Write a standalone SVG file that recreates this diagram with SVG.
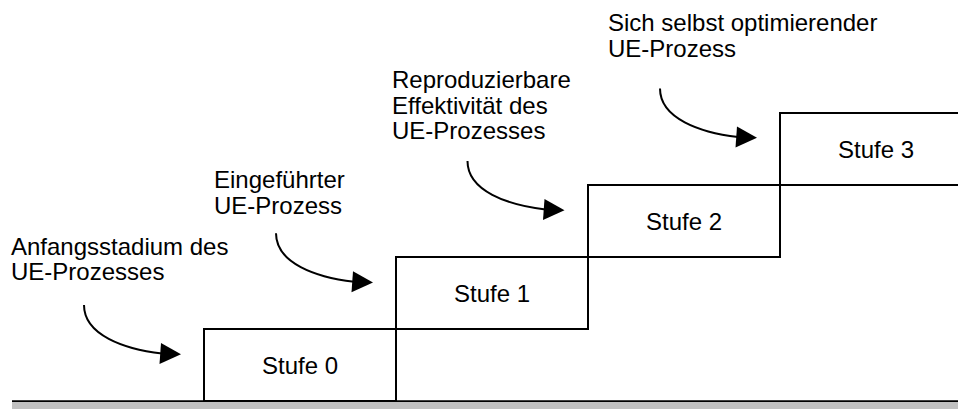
<svg xmlns="http://www.w3.org/2000/svg" xmlns:xlink="http://www.w3.org/1999/xlink" width="958" height="409" viewBox="0 0 958 409">
<style>
text{font-family:"Liberation Sans",Arial,sans-serif;font-size:24px;fill:#000}
.step{fill:#fff;stroke:#000;stroke-width:2}
.mid{text-anchor:middle}
.curve{fill:none;stroke:#000;stroke-width:2}
.head{fill:#000;stroke:none}
</style>
<defs>
<g id="arrow">
<path class="curve" d="M0,0 C0,30 40,44 78,48.5"/>
<polygon class="head" points="77,38 97,49.3 75.5,59"/>
</g>
</defs>
<rect x="12" y="402" width="946" height="7" fill="#c0c0c0"/>
<line x1="12" y1="401.2" x2="958" y2="401.2" stroke="#000" stroke-width="1.8"/>
<g id="stufe3">
<rect class="step" x="780" y="113" width="192" height="72"/>
<text class="mid" x="876" y="157.6">Stufe 3</text>
</g>
<g id="stufe2">
<rect class="step" x="588" y="185" width="192" height="72"/>
<text class="mid" x="684" y="229.6">Stufe 2</text>
</g>
<g id="stufe1">
<rect class="step" x="396" y="257" width="192" height="72"/>
<text class="mid" x="492" y="301.6">Stufe 1</text>
</g>
<g id="stufe0">
<rect class="step" x="204" y="329" width="192" height="72"/>
<text class="mid" x="300" y="373.6">Stufe 0</text>
</g>
<g id="label0">
<text x="11" y="254.5">Anfangsstadium des</text>
<text x="11" y="280">UE-Prozesses</text>
</g>
<g id="label1">
<text x="214" y="188">Eingeführter</text>
<text x="214" y="213.5">UE-Prozess</text>
</g>
<g id="label2">
<text x="392" y="88">Reproduzierbare</text>
<text x="392" y="113.5">Effektivität des</text>
<text x="392" y="139">UE-Prozesses</text>
</g>
<g id="label3">
<text x="608" y="31">Sich selbst optimierender</text>
<text x="608" y="56.5">UE-Prozess</text>
</g>
<g id="connectors">
<use xlink:href="#arrow" transform="translate(84,305)"/>
<use xlink:href="#arrow" transform="translate(276,233.3)"/>
<use xlink:href="#arrow" transform="translate(467.5,161)"/>
<use xlink:href="#arrow" transform="translate(660,88.5)"/>
</g>
</svg>
